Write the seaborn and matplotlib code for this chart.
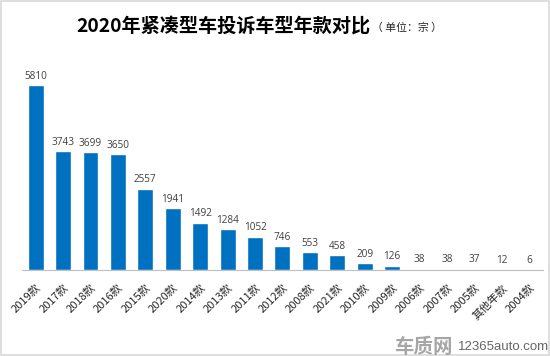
import matplotlib
matplotlib.use("Agg")
import matplotlib.pyplot as plt
import seaborn as sns
import pandas as pd
from matplotlib.patches import Rectangle

# data
model_years = ["2019款", "2017款", "2018款", "2016款", "2015款", "2020款", "2014款",
               "2013款", "2011款", "2012款", "2008款", "2021款", "2010款", "2009款",
               "2006款", "2007款", "2005款", "其他年款", "2004款"]
complaints = [5810, 3743, 3699, 3650, 2557, 1941, 1492, 1284, 1052, 746, 553, 458,
              209, 126, 38, 38, 37, 12, 6]

df = pd.DataFrame({"year": model_years, "count": complaints})

sns.set_style("white")
plt.rcParams['font.family'] = ['Noto Sans CJK SC', 'DejaVu Sans']

fig = plt.figure(figsize=(5.5, 3.56), dpi=100)
ax = fig.add_axes([0.04, 0.2416, 0.947, 0.58])

sns.barplot(data=df, x="year", y="count", color="#0070C0", saturation=1,
            width=0.58, ax=ax)
ax.set_ylim(0, 6500)
ax.set_xlim(-0.5, len(model_years) - 0.5)

# value labels above bars
for i, v in enumerate(complaints):
    ax.text(i, v + 110, str(v), ha="center", va="bottom", fontsize=7.2,
            color="#404040", family=["Open Sans", "DejaVu Sans"])

ax.set_xlabel("")
ax.set_ylabel("")
ax.set_yticks([])
ax.tick_params(axis="x", length=0, pad=9)
plt.setp(ax.get_xticklabels(), rotation=45, ha="right", rotation_mode="anchor",
         fontsize=8, color="#262626")
for s in ["top", "right", "left"]:
    ax.spines[s].set_visible(False)
ax.spines["bottom"].set_color("#BFBFBF")
ax.spines["bottom"].set_linewidth(0.8)

# title and unit
fig.text(0.673, 0.928, "2020年紧凑型车投诉车型年款对比", ha="right", va="center",
         fontsize=13.8, fontweight="bold", color="black")
fig.text(0.676, 0.922, "（ 单位：宗 ）", ha="left", va="center", fontsize=7.8,
         color="#262626")

# watermark
fig.text(0.77, 0.024, "车质网", ha="center", va="center", fontsize=14,
         fontweight="bold", color="#A6A6A6")
fig.text(0.833, 0.024, "12365auto.com", ha="left", va="center", fontsize=9.5,
         color="#666666", family=["Liberation Sans", "DejaVu Sans"])

# light border around figure
fig.patches.append(Rectangle((0.002, 0.003), 0.996, 0.994, transform=fig.transFigure,
                             fill=False, edgecolor="#D9D9D9", linewidth=1.2))

fig.savefig("out.png", dpi=100)
